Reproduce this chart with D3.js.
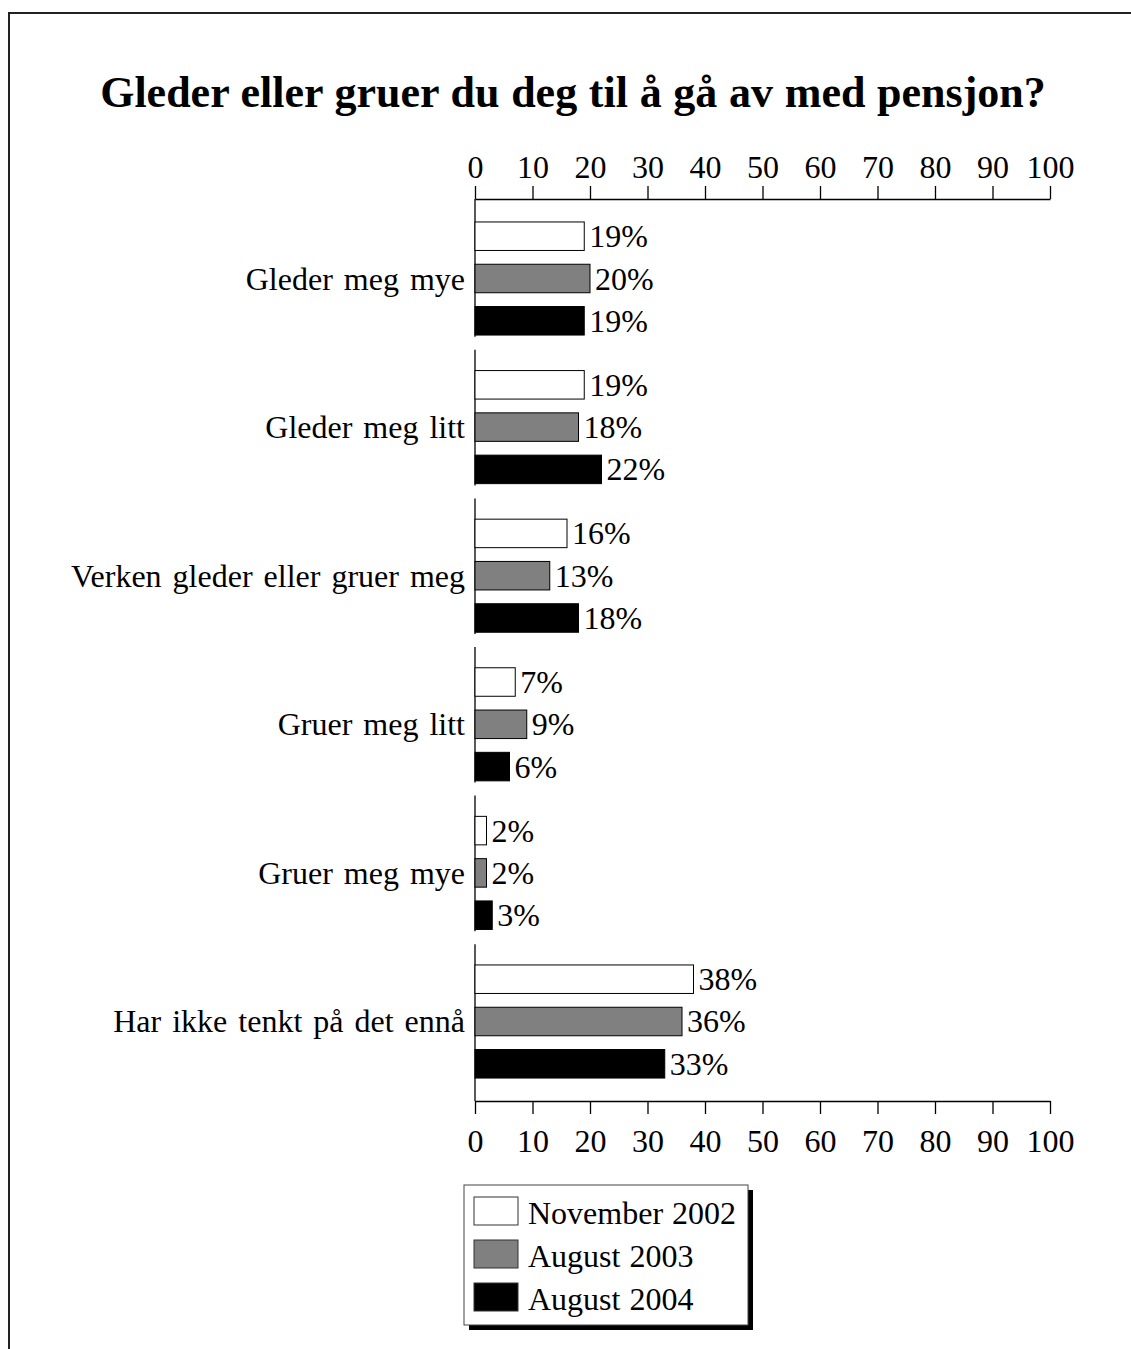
<!DOCTYPE html>
<html>
<head>
<meta charset="utf-8">
<script src="https://cdn.jsdelivr.net/npm/d3@7"></script>
<style>
  html, body { margin: 0; padding: 0; background: #fff; }
  svg { display: block; }
</style>
</head>
<body>
<script>
const title = "Gleder eller gruer du deg til å gå av med pensjon?";
const categories = ["Gleder meg mye", "Gleder meg litt", "Verken gleder eller gruer meg", "Gruer meg litt", "Gruer meg mye", "Har ikke tenkt på det ennå"];
const seriesNames = ["November 2002", "August 2003", "August 2004"];
const nov2002 = [19, 19, 16, 7, 2, 38];
const aug2003 = [20, 18, 13, 9, 2, 36];
const aug2004 = [19, 22, 18, 6, 3, 33];
const tickValues = [0, 10, 20, 30, 40, 50, 60, 70, 80, 90, 100];
const seriesFill = ["#ffffff", "#808080", "#000000"];

const seriesValues = [nov2002, aug2003, aug2004];
const W = 1131, H = 1349;
const FONT = "'Liberation Serif', 'Times New Roman', serif";
const FS = 32;

const svg = d3.select("body").append("svg").attr("width", W).attr("height", H);

// frame
svg.append("rect").attr("x", 9).attr("y", 13).attr("width", 1300).attr("height", 1500)
  .attr("fill", "none").attr("stroke", "#222").attr("stroke-width", 2);

// title
svg.append("text").attr("x", 573).attr("y", 107).attr("text-anchor", "middle")
  .attr("font-family", FONT).attr("font-weight", "bold").attr("font-size", 44)
  .attr("word-spacing", 0.7)
  .text(title);

const plotTop = 199, plotBottom = 1101, plotLeft = 475, plotRight = 1050;
const x = d3.scaleLinear().domain([0, 100]).range([plotLeft, plotRight]);
const y = d3.scaleBand().domain(categories).range([plotTop, plotBottom]).paddingInner(0).paddingOuter(0.035);
const ys = d3.scaleBand().domain(seriesNames).range([0, y.bandwidth()]).paddingInner(0.326).paddingOuter(0.42);

// axes
const axTop = svg.append("g").attr("transform", `translate(0,${plotTop})`)
  .call(d3.axisTop(x).tickValues(tickValues).tickSize(13).tickSizeOuter(0).tickPadding(8));
const axBot = svg.append("g").attr("transform", `translate(0,${plotBottom})`)
  .call(d3.axisBottom(x).tickValues(tickValues).tickSize(13).tickSizeOuter(0).tickPadding(15));
[axTop, axBot].forEach(g => {
  g.attr("font-family", FONT).attr("font-size", FS);
  g.selectAll("path, line").attr("stroke", "#000").attr("stroke-width", 1.3);
  g.selectAll("text").attr("fill", "#000");
});

// vertical axis segments per group
categories.forEach((c, i) => {
  const y0 = i === 0 ? plotTop : y(c) - 3;
  const y1 = i === categories.length - 1 ? plotBottom : y(c) + y.step() - 16;
  svg.append("line").attr("x1", plotLeft).attr("x2", plotLeft).attr("y1", y0).attr("y2", y1)
    .attr("stroke", "#000").attr("stroke-width", 1.3);
});

// category labels
svg.append("g").selectAll("text").data(categories).join("text")
  .attr("x", plotLeft - 10)
  .attr("y", d => y(d) + ys(seriesNames[1]) + ys.bandwidth() / 2 + 11)
  .attr("text-anchor", "end").attr("font-family", FONT).attr("font-size", FS)
  .attr("word-spacing", 3)
  .text(d => d);

// bars
seriesNames.forEach((s, si) => {
  const g = svg.append("g");
  g.selectAll("rect").data(categories).join("rect")
    .attr("x", x(0))
    .attr("y", (d) => y(d) + ys(s))
    .attr("width", (d, i) => x(seriesValues[si][i]) - x(0))
    .attr("height", ys.bandwidth())
    .attr("fill", seriesFill[si]).attr("stroke", "#000").attr("stroke-width", 1);
  g.selectAll("text").data(categories).join("text")
    .attr("x", (d, i) => x(seriesValues[si][i]) + 5)
    .attr("y", d => y(d) + ys(s) + ys.bandwidth() / 2 + 11)
    .attr("font-family", FONT).attr("font-size", FS)
    .text((d, i) => seriesValues[si][i] + "%");
});

// legend
const lg = svg.append("g");
const lx = 464, ly = 1185, lw = 284, lh = 140;
lg.append("rect").attr("x", lx + 5).attr("y", ly + 5).attr("width", lw).attr("height", lh).attr("fill", "#000");
lg.append("rect").attr("x", lx).attr("y", ly).attr("width", lw).attr("height", lh)
  .attr("fill", "#fff").attr("stroke", "#444").attr("stroke-width", 1);
seriesNames.forEach((s, i) => {
  const yy = ly + 12 + i * 43;
  lg.append("rect").attr("x", lx + 10).attr("y", yy).attr("width", 44).attr("height", 28)
    .attr("fill", seriesFill[i]).attr("stroke", "#333").attr("stroke-width", 1);
  lg.append("text").attr("x", lx + 64).attr("y", yy + 27)
    .attr("font-family", FONT).attr("font-size", FS).attr("word-spacing", 1).text(s);
});
</script>
</body>
</html>
